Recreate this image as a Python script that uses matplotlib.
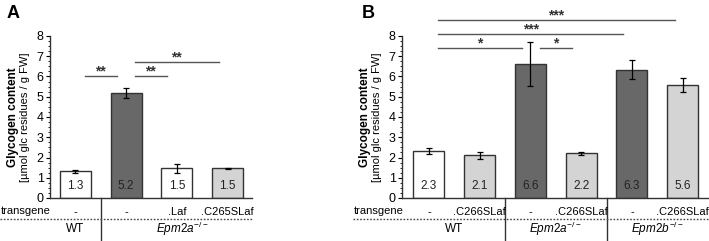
import matplotlib
matplotlib.use("Agg")
import matplotlib.pyplot as plt
from matplotlib.ticker import MultipleLocator
import matplotlib.transforms as mtransforms

plt.rcParams['font.family'] = ['Liberation Sans', 'DejaVu Sans']
plt.rcParams['mathtext.fontset'] = 'custom'
plt.rcParams['mathtext.rm'] = 'Liberation Sans'
plt.rcParams['mathtext.it'] = 'Liberation Sans:italic'

# Panel A data
a_values = [1.32, 5.2, 1.47, 1.46]
a_errors = [0.07, 0.25, 0.22, 0.04]
a_labels = ['1.3', '5.2', '1.5', '1.5']
a_colors = ['white', '#686868', 'white', '#d4d4d4']
a_transgene = ['-', '-', '.Laf', '.C265SLaf']
a_groups = ['WT', r'$\it{Epm2a}^{\it{-/-}}$']
a_group_x = [0, 2.1]
a_separators = [0.5]
# (x0, x1, y, stars)
a_sig = [(0.18, 0.82, 6.0, '**'), (1.17, 1.8, 6.0, '**'), (1.17, 2.83, 6.7, '**')]

# Panel B data
b_values = [2.3, 2.1, 6.62, 2.2, 6.33, 5.57]
b_errors = [0.15, 0.17, 1.07, 0.07, 0.47, 0.35]
b_labels = ['2.3', '2.1', '6.6', '2.2', '6.3', '5.6']
b_colors = ['white', '#d4d4d4', '#686868', '#d4d4d4', '#686868', '#d4d4d4']
b_transgene = ['-', '.C266SLaf', '-', '.C266SLaf', '-', '.C266SLaf']
b_groups = ['WT', r'$\it{Epm2a}^{\it{-/-}}$', r'$\it{Epm2b}^{\it{-/-}}$']
b_group_x = [0.5, 2.5, 4.5]
b_separators = [1.5, 3.5]
b_sig = [(0.18, 1.83, 7.4, '*'), (2.19, 2.82, 7.4, '*'),
         (0.18, 3.83, 8.1, '***'), (0.18, 4.85, 8.79, '***')]

W, H = 709, 241
fig = plt.figure(figsize=(W / 100, H / 100), dpi=100)


def px(x, y):
    return x / W, 1 - y / H


def draw_panel(rect, xlim, values, errors, labels, colors, transgene,
               groups, group_x, separators, sig, dotted_from):
    ax = fig.add_axes(rect)
    x = list(range(len(values)))
    ax.bar(x, values, width=0.61, color=colors, edgecolor='#333333', linewidth=1.0, zorder=2)
    ax.errorbar(x, values, yerr=errors, fmt='none', ecolor='black',
                elinewidth=0.9, capsize=2.5, capthick=0.9, zorder=3)
    for xi, lab in zip(x, labels):
        ax.text(xi, 0.58, lab, ha='center', va='center', fontsize=8.5, color='#222222', zorder=4)
    for x0, x1, y, stars in sig:
        ax.plot([x0, x1], [y, y], color='#555555', lw=1.0, clip_on=False)
        ax.text((x0 + x1) / 2, y - 0.12, stars, ha='center', va='bottom',
                fontsize=10, fontweight='bold', color='#333333', clip_on=False)
    ax.set_xlim(*xlim)
    ax.set_ylim(0, 8)
    ax.yaxis.set_major_locator(MultipleLocator(1))
    ax.yaxis.set_minor_locator(MultipleLocator(0.25))
    ax.tick_params(axis='y', which='major', length=3, width=0.8, labelsize=9, pad=1.5)
    ax.tick_params(axis='y', which='minor', length=1.5, width=0.6)
    ax.set_xticks([])
    for s in ['top', 'right']:
        ax.spines[s].set_visible(False)
    for s in ['left', 'bottom']:
        ax.spines[s].set_color('#333333')
        ax.spines[s].set_linewidth(1.0)

    trans = mtransforms.blended_transform_factory(ax.transData, ax.transAxes)
    for xi, t in zip(x, transgene):
        ax.text(xi, -0.086, t, transform=trans, ha='center', va='center', fontsize=8, clip_on=False)
    for gx, g in zip(group_x, groups):
        ax.text(gx, -0.19, g, transform=trans, ha='center', va='center', fontsize=8.5, clip_on=False)
    for sx in separators:
        ax.plot([sx, sx], [0, -0.27], transform=trans, color='#333333', lw=1.0, clip_on=False)

    x0f, _ = px(dotted_from, 0)
    fig.add_artist(plt.Line2D([x0f, rect[0] + rect[2]], [px(0, 219)[1]] * 2,
                              color='#444444', lw=1.0, linestyle=(0, (1.2, 1.2))))
    fig.text(*px(dotted_from + 1, 211), 'transgene', ha='left', va='center', fontsize=8)
    return ax


bottom = px(0, 198)[1]
height = 162 / H

draw_panel([50 / W, bottom, 202 / W, height], (-0.5, 3.48), a_values, a_errors, a_labels,
           a_colors, a_transgene, a_groups, a_group_x, a_separators, a_sig, 0)
draw_panel([402 / W, bottom, 306 / W, height], (-0.53, 5.5), b_values, b_errors, b_labels,
           b_colors, b_transgene, b_groups, b_group_x, b_separators, b_sig, 353)

# panel letters and y labels
fig.text(*px(7, 13), 'A', fontsize=13, fontweight='bold', ha='left', va='center')
fig.text(*px(362, 13), 'B', fontsize=13, fontweight='bold', ha='left', va='center')
for xb, xl in [(13, 25), (365, 377)]:
    fig.text(*px(xb, 117), 'Glycogen content', rotation=90, fontsize=8.5,
             fontweight='bold', ha='center', va='center')
    fig.text(*px(xl, 117), '[µmol glc residues / g FW]', rotation=90, fontsize=8,
             ha='center', va='center')

fig.savefig('out.png', dpi=100, facecolor='white')
